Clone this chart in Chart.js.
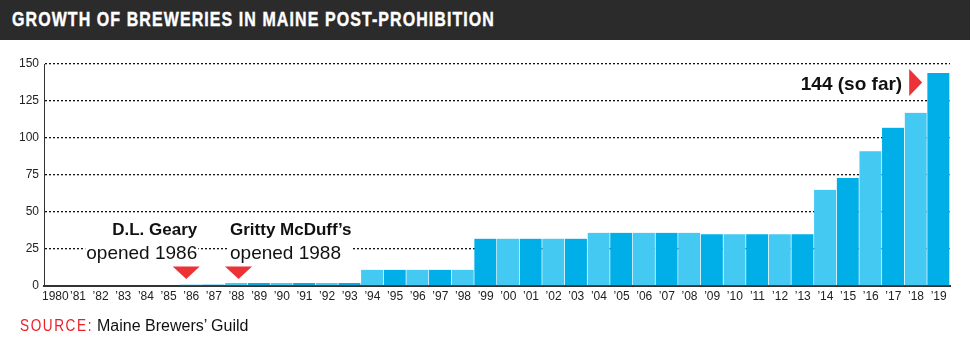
<!DOCTYPE html>
<html>
<head>
<meta charset="utf-8">
<script src="https://cdn.jsdelivr.net/npm/chart.js@4"></script>
<style>
  html, body { margin: 0; padding: 0; background: #fff; }
  #wrap { position: relative; width: 970px; height: 353px; overflow: hidden; }
  #bar { position: absolute; left: 0; top: 0; width: 970px; height: 40px; background: #2b2b2b; }
  #title { position: absolute; left: 12px; top: 8px; color: #fff; font-family: 'Liberation Sans', Arial, sans-serif; font-weight: bold; font-size: 19.5px; line-height: 22px; white-space: nowrap; transform: scaleX(0.82); transform-origin: 0 0; -webkit-text-stroke: 0.4px #fff; }
  #src { position: absolute; left: 20px; top: 316px; font-size: 16px; line-height: 20px; white-space: nowrap; font-family: 'Liberation Sans', Arial, sans-serif; color: #111; }
  #srclab { display: inline-block; color: #e8202a; font-family: 'Liberation Sans', Arial, sans-serif; font-size: 17px; transform: scaleX(0.8); transform-origin: 0 0; }
  #srcrest { position: absolute; left: 77px; top: 0; }
  canvas { position: absolute; left: 0; top: 0; }
</style>
</head>
<body>
<div id="wrap">
  <canvas id="c" width="970" height="353"></canvas>
  <div id="bar"><span id="title">GROWTH OF BREWERIES IN MAINE POST-PROHIBITION</span></div>
  <div id="src"><span id="srclab">SOURCE:</span><span id="srcrest">Maine Brewers’ Guild</span></div>
</div>
<script>
const years = ['1980','’81','’82','’83','’84','’85','’86','’87','’88','’89','’90','’91','’92','’93','’94','’95','’96','’97','’98','’99',
  '’00','’01','’02','’03','’04','’05','’06','’07','’08','’09','’10','’11','’12','’13','’14','’15','’16','’17','’18','’19'];
const breweries = [0,0,0,0,0,0,1,1,2,2,2,2,2,2,11,11,11,11,11,32,32,32,32,32,36,36,36,36,36,35,35,35,35,35,65,73,91,107,117,144];
const yTicks = [0,25,50,75,100,125,150];
const notes = [
  { index: 6, bold: 'D.L. Geary', plain: 'opened 1986', side: 'left' },
  { index: 8, bold: 'Gritty McDuff’s', plain: 'opened 1988', side: 'right' }
];
const lastNote = '144 (so far)';

// fit letter-spacing of scaled text so its visible width matches target
function fit(el, target, scale) {
  el.style.letterSpacing = '0px';
  const w = el.getBoundingClientRect().width / scale;
  const n = el.textContent.length;
  el.style.letterSpacing = ((target / scale - w) / n) + 'px';
}
fit(document.getElementById('title'), 483, 0.82);
fit(document.getElementById('srclab'), 73, 0.8);

const DARK = '#00aee8', LIGHT = '#44c9f3', RED = '#ec3237';
const colors = years.map((y, i) => (i % 2 === 1 ? DARK : LIGHT));

const annot = {
  id: 'annot',
  afterDraw(chart) {
    const ctx = chart.ctx;
    const xs = chart.scales.x, ys = chart.scales.y;
    const base = ys.getPixelForValue(0);
    ctx.save();
    notes.forEach(n => {
      const cx = xs.getPixelForValue(n.index);
      ctx.font = 'bold 17px "Liberation Sans", Arial, sans-serif';
      const w1 = ctx.measureText(n.bold).width;
      ctx.font = '19px "Liberation Sans", Arial, sans-serif';
      const w2 = ctx.measureText(n.plain).width;
      const w = Math.max(w1, w2);
      let tx, align, bx;
      if (n.side === 'left') { tx = cx + 6; align = 'right'; bx = tx - w; }
      else { tx = cx - 6.5; align = 'left'; bx = tx; }
      ctx.fillStyle = '#fff';
      ctx.fillRect(bx - 1, base - 66, w + 2, 44);
      ctx.fillStyle = '#111';
      ctx.textAlign = align;
      ctx.textBaseline = 'alphabetic';
      ctx.font = 'bold 17px "Liberation Sans", Arial, sans-serif';
      ctx.fillText(n.bold, tx, base - 51);
      ctx.font = '19px "Liberation Sans", Arial, sans-serif';
      ctx.fillText(n.plain, tx, base - 27);
      const tcx = n.side === 'left' ? cx - 5 : cx + 2;
      ctx.fillStyle = RED;
      ctx.beginPath();
      ctx.moveTo(tcx - 13.5, base - 19.5);
      ctx.lineTo(tcx + 13.5, base - 19.5);
      ctx.lineTo(tcx, base - 7);
      ctx.closePath();
      ctx.fill();
    });
    const li = breweries.length - 1;
    const lx = xs.getPixelForValue(li);
    const ly = ys.getPixelForValue(breweries[li]);
    ctx.fillStyle = RED;
    ctx.beginPath();
    ctx.moveTo(lx - 29.5, ly - 4);
    ctx.lineTo(lx - 16.5, ly + 9.5);
    ctx.lineTo(lx - 29.5, ly + 23);
    ctx.closePath();
    ctx.fill();
    ctx.fillStyle = '#111';
    ctx.font = 'bold 19px "Liberation Sans", Arial, sans-serif';
    ctx.textAlign = 'right';
    ctx.textBaseline = 'alphabetic';
    ctx.fillText(lastNote, lx - 36.5, ly + 17);
    ctx.restore();
  }
};

new Chart(document.getElementById('c'), {
  type: 'bar',
  data: {
    labels: years,
    datasets: [{
      data: breweries,
      backgroundColor: colors,
      borderColor: 'rgba(255,255,255,0.45)',
      borderWidth: { top: 0, left: 0, right: 1, bottom: 0 },
      borderSkipped: false,
      barPercentage: 1,
      categoryPercentage: 1
    }]
  },
  options: {
    responsive: false,
    animation: false,
    events: [],
    layout: { padding: { top: 64, right: 20, bottom: 47, left: 0 } },
    plugins: { legend: { display: false }, tooltip: { enabled: false }, title: { display: false } },
    scales: {
      x: {
        z: 1,
        grid: { display: false, drawTicks: false },
        border: { display: true, color: '#333', width: 2 },
        ticks: { color: '#222', font: { family: '"Liberation Sans", Arial, sans-serif', size: 12 }, padding: 3, maxRotation: 0, autoSkip: false },
        afterFit(s) { s.height = 20; }
      },
      y: {
        z: 1,
        min: 0, max: 150,
        afterBuildTicks(s) { s.ticks = yTicks.map(v => ({ value: v })); },
        grid: { color: '#111', lineWidth: 1.3, drawTicks: false },
        border: { display: true, color: '#333', width: 1, dash: [2, 2] },
        ticks: { color: '#222', font: { family: '"Liberation Sans", Arial, sans-serif', size: 12 }, padding: 5 },
        afterFit(s) { s.width = 44; }
      }
    }
  },
  plugins: [annot]
});
</script>
</body>
</html>
